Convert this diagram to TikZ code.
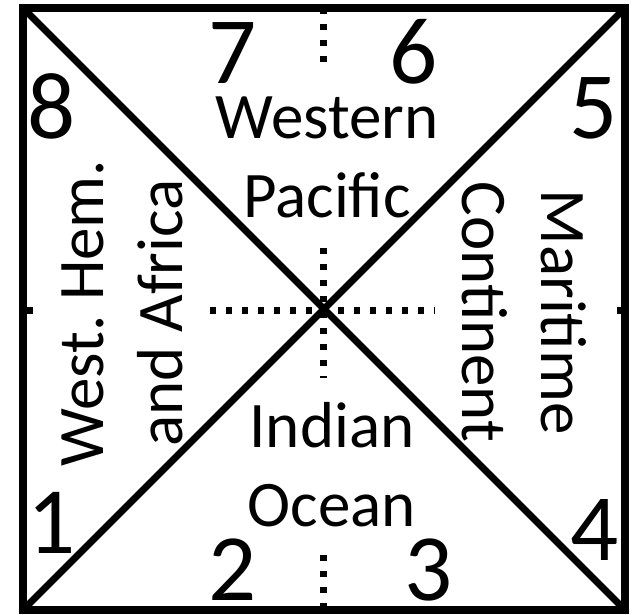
\documentclass[tikz,border=0pt]{standalone}
\usepackage{fontspec}
\setmainfont{Carlito}
\frenchspacing

\def\NumFont{\fontsize{95}{116}\selectfont}
\def\LabelFont{\fontsize{65}{79}\selectfont}
\def\BoxL{23}
\def\BoxR{625}
\def\BoxT{8}
\def\BoxB{610}
\def\MidX{323}
\def\MidY{310}

\begin{document}
\begin{tikzpicture}[x=1pt,y=-1pt,
    octant/.style={font=\NumFont,inner sep=0pt,anchor=base,text height=58pt,text depth=0pt},
    sector/.style={font=\LabelFont,align=center,inner sep=0pt},
    divider/.style={line width=7pt},
    midline/.style={line width=7pt,dash pattern=on 6pt off 10pt}]

\useasboundingbox (0,0) rectangle (632,614);

% =====================================================
% CORNERS
% =====================================================
\coordinate (nw) at (\BoxL,\BoxT);
\coordinate (ne) at (\BoxR,\BoxT);
\coordinate (sw) at (\BoxL,\BoxB);
\coordinate (se) at (\BoxR,\BoxB);

% =====================================================
% DOTTED PHASE LINES
% =====================================================
\draw[midline] (\MidX,\BoxT) -- (\MidX,63);
\draw[midline] (\MidX,248) -- (\MidX,378);
\draw[midline] (\MidX,555) -- (\MidX,\BoxB);
\draw[midline] (210,\MidY) -- (435,\MidY);
\draw[midline] (27,\MidY) -- (34,\MidY);
\draw[midline] (617,\MidY) -- (623,\MidY);

% =====================================================
% DIAGONALS AND FRAME
% =====================================================
\draw[divider] (nw) -- (se);
\draw[divider] (ne) -- (sw);
\draw[line width=8pt] (nw) rectangle (se);

% =====================================================
% PHASE NUMBERS
% =====================================================
\node[octant] (p1) at (52,553) {1};
\node[octant] (p2) at (233,600) {2};
\node[octant] (p3) at (429,600) {3};
\node[octant] (p4) at (595,560) {4};
\node[octant] (p5) at (594,138) {5};
\node[octant] (p6) at (414,83) {6};
\node[octant] (p7) at (233,83) {7};
\node[octant] (p8) at (52,138) {8};

% =====================================================
% REGION LABELS
% =====================================================
\node[sector] (wpac) at (327,157) {Western\\Pacific};
\node[sector] (indo) at (332,465) {Indian\\Ocean};
\node[sector,rotate=90] (whem) at (122,313) {West. Hem.\\and Africa};
\node[sector,rotate=-90] (mcon) at (524,312) {Maritime\\Continent};

\end{tikzpicture}
\end{document}
